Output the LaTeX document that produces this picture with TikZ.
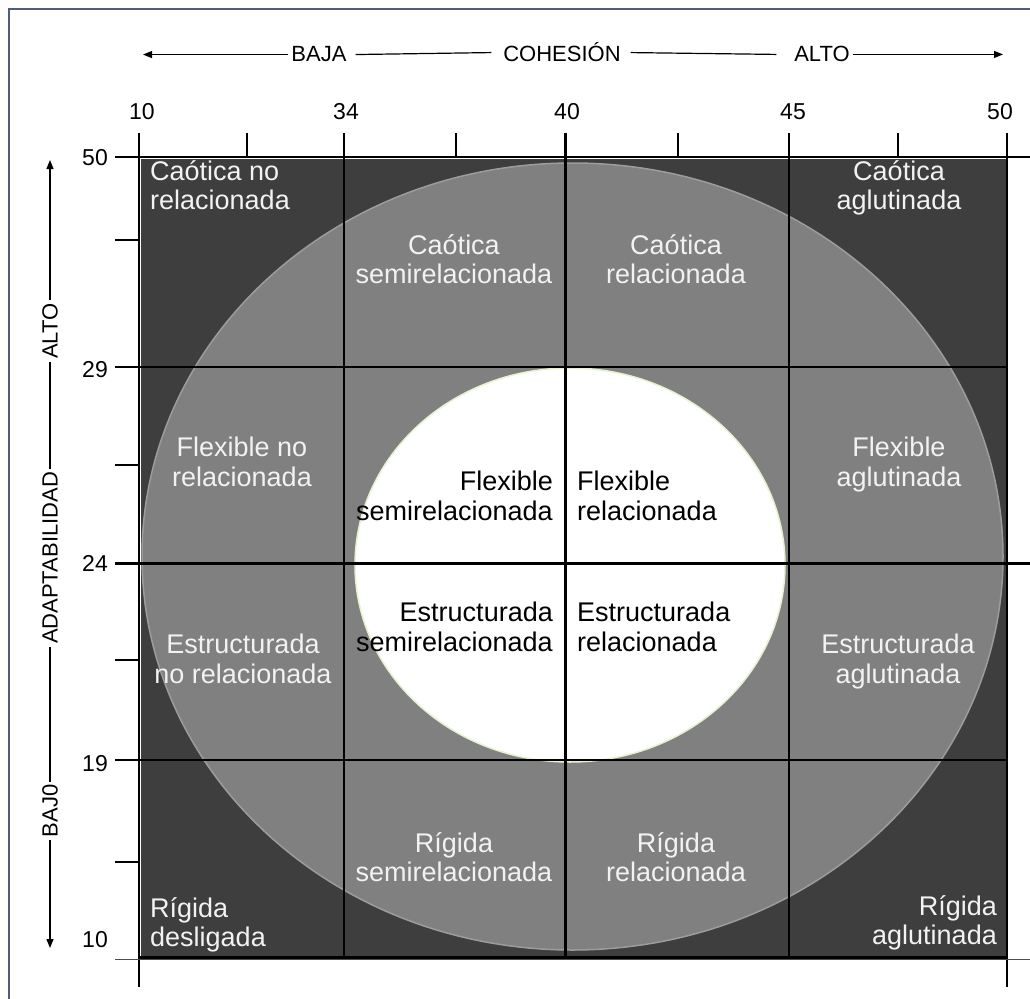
\documentclass[tikz,border=0pt]{standalone}
\usepackage{fontspec}
\setmainfont{Liberation Sans}
\usetikzlibrary{arrows.meta}
\definecolor{darkcell}{HTML}{3E3E3E}
\definecolor{midcell}{HTML}{808080}
\definecolor{rimcol}{HTML}{9C9C9C}
\definecolor{innerrim}{HTML}{E4F2CF}
\definecolor{framecol}{HTML}{4F5E78}
\definecolor{celltext}{HTML}{F2F2F2}
\newcommand\ls{\rule[-7pt]{0pt}{22.5pt}}
\begin{document}
\begin{tikzpicture}[x=1pt,y=-1pt,
  gridline/.style={draw=black,line width=1.3pt},
  thickline/.style={draw=black,line width=3pt},
  axisarrow/.style={line width=1.2pt,-{Triangle[length=9pt,width=7pt]}},
  axisline/.style={line width=1.2pt},
  cell/.style={font=\fontsize{27}{29.5}\selectfont,inner sep=0pt,text=celltext},
  incell/.style={cell,text=black},
  axlabel/.style={font=\fontsize{22}{26}\selectfont,inner sep=0pt,outer sep=3pt},
  numlabel/.style={font=\fontsize{23}{27}\selectfont,inner sep=0pt}]
\useasboundingbox (0,0) rectangle (1030,998);
\fill[white] (0,0) rectangle (1030,998);
\draw[framecol,line width=2pt] (9,9) rectangle (1045,1015);

% background cells
\fill[darkcell] (141,159) rectangle (1007,958);
\fill[midcell] (572.5,556.5) ellipse [x radius=430.5, y radius=393.5];
\draw[rimcol,line width=1.5pt] (572.5,556.5) ellipse [x radius=430.5, y radius=393.5];
\fill[white] (570,565) ellipse [x radius=215, y radius=197];
\draw[innerrim,line width=1.5pt] (570,565) ellipse [x radius=215, y radius=197];

% grid
\draw[gridline] (115,157) -- (1030,157);
\foreach \x in {247,456,678,898} \draw[gridline] (\x,133) -- (\x,157);
\draw[gridline] (139,133) -- (139,987);
\draw[gridline] (344,133) -- (344,958);
\draw[thickline] (565,133) -- (565,958);
\draw[gridline,line width=1.6pt] (789,133) -- (789,958);
\draw[gridline,line width=1.6pt] (1007,133) -- (1007,987);
\foreach \y in {240,465,660,862} \draw[gridline] (115,\y) -- (139,\y);
\draw[gridline] (115,367) -- (1007,367);
\draw[thickline] (115,563) -- (1030,563);
\draw[gridline] (115,760) -- (1007,760);
\draw[line width=1pt,black!70] (115,959) -- (1030,959);
\draw[black,line width=3pt] (140,957) -- (1008,957);

% top numbers
\node[numlabel,anchor=base] (n10) at (142,119) {10};
\node[numlabel,anchor=base] (n34) at (346,119) {34};
\node[numlabel,anchor=base] (n40) at (567,119) {40};
\node[numlabel,anchor=base] (n45) at (793,119) {45};
\node[numlabel,anchor=base] (n50) at (1000,119) {50};
% left numbers
\node[numlabel,anchor=east] (m50) at (108,158) {50};
\node[numlabel,anchor=east] (m29) at (108,370) {29};
\node[numlabel,anchor=east] (m24) at (108,563) {24};
\node[numlabel,anchor=east] (m19) at (108,764) {19};
\node[numlabel,anchor=east] (m10) at (108,940) {10};

% top axis labels
\node[axlabel,anchor=base] (baja) at (319,62) {BAJA};
\node[axlabel,anchor=base] (coh) at (562,62) {COHESIÓN};
\node[axlabel,anchor=base] (altoh) at (822,62) {ALTO};
\coordinate (tl) at (143,0);
\coordinate (tr) at (1003,0);
\draw[axisarrow] (baja.west) -- (baja.west -| tl);
\draw[axisline] ([xshift=6pt]baja.east) -- ([xshift=-9pt]coh.west);
\draw[axisline] ([xshift=7pt]coh.east) -- ([xshift=-15pt]altoh.west);
\draw[axisarrow] (altoh.east) -- (altoh.east -| tr);

% left axis labels
\node[axlabel,rotate=90] (altov) at (50,331) {ALTO};
\node[axlabel,rotate=90] (adap) at (50,558) {ADAPTABILIDAD};
\node[axlabel,rotate=90] (bajov) at (50,811) {BAJ0};
\coordinate (vt) at (0,160);
\coordinate (vb) at (0,948);
\draw[axisarrow] (altov.east) -- (altov.east |- vt);
\draw[axisline] (altov.west) -- (adap.east);
\draw[axisline] (adap.west) -- (bajov.east);
\draw[axisarrow] (bajov.west) -- (bajov.west |- vb);

% cell texts
\node[cell,anchor=north west,align=left] (c11) at (150,160) {\ls Caótica no\\\ls relacionada};
\node[cell,anchor=north,align=center] (c12) at (454,234) {\ls Caótica\\\ls semirelacionada};
\node[cell,anchor=north,align=center] (c13) at (676,234) {\ls Caótica\\\ls relacionada};
\node[cell,anchor=north,align=center] (c14) at (899,160) {\ls Caótica\\\ls aglutinada};
\node[cell,anchor=north,align=center] (c21) at (242,437) {\ls Flexible no\\\ls relacionada};
\node[incell,anchor=north east,align=right] (c22) at (553,471) {\ls Flexible\\\ls semirelacionada};
\node[incell,anchor=north west,align=left] (c23) at (577,471) {\ls Flexible\\\ls relacionada};
\node[cell,anchor=north,align=center] (c24) at (899,437) {\ls Flexible\\\ls aglutinada};
\node[cell,anchor=north,align=center] (c31) at (243,634) {\ls Estructurada\\\ls no relacionada};
\node[incell,anchor=north east,align=right] (c32) at (553,602) {\ls Estructurada\\\ls semirelacionada};
\node[incell,anchor=north west,align=left] (c33) at (577,602) {\ls Estructurada\\\ls relacionada};
\node[cell,anchor=north,align=center] (c34) at (898,634) {\ls Estructurada\\\ls aglutinada};
\node[cell,anchor=north west,align=left] (c41) at (150,897) {\ls Rígida\\\ls desligada};
\node[cell,anchor=north,align=center] (c42) at (454,832) {\ls Rígida\\\ls semirelacionada};
\node[cell,anchor=north,align=center] (c43) at (676,832) {\ls Rígida\\\ls relacionada};
\node[cell,anchor=north east,align=right] (c44) at (997,895) {\ls Rígida\\\ls aglutinada};
\end{tikzpicture}
\end{document}
